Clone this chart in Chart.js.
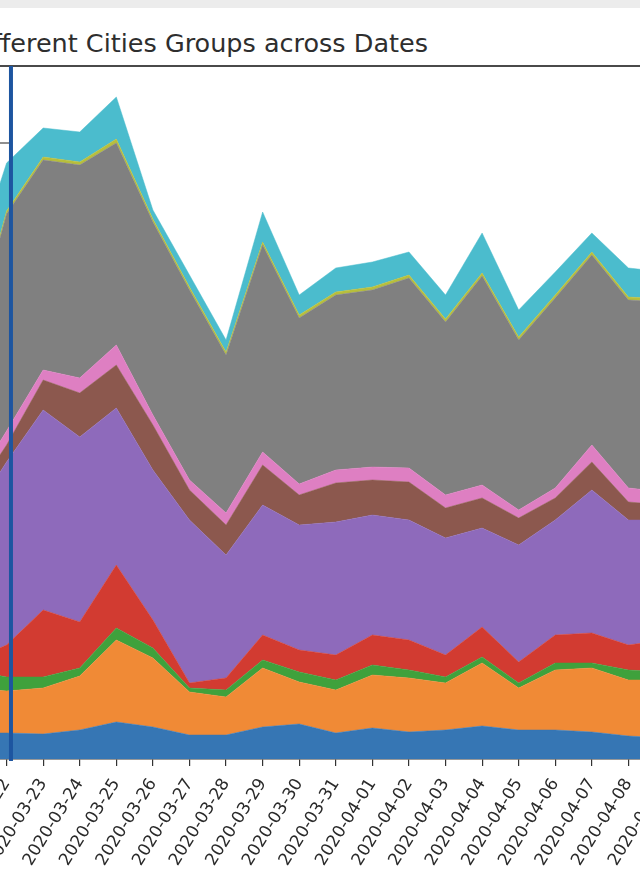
<!DOCTYPE html>
<html>
<head>
<meta charset="utf-8">
<script src="https://cdn.jsdelivr.net/npm/chart.js@4"></script>
<style>
  html, body { margin: 0; padding: 0; background: #ffffff; overflow: hidden; }
  body { width: 640px; height: 880px; position: relative; font-family: "DejaVu Sans", sans-serif; }
  #topstrip { position: absolute; left: 0; top: 0; width: 640px; height: 8px; background: #ececec; }
  #title { position: absolute; right: 212px; top: 28px; line-height: 30px; font-size: 25.5px;
           white-space: nowrap; color: #2e2e2e; font-family: "DejaVu Sans", sans-serif; }
  #wrap { position: absolute; left: -30px; top: 0; width: 695px; height: 880px; }
</style>
</head>
<body>
<div id="topstrip"></div>
<div id="title">Different Cities Groups across Dates</div>
<div id="wrap"><canvas id="c" width="695" height="880"></canvas></div>
<script>
const dates = ['2020-03-21','2020-03-22','2020-03-23','2020-03-24','2020-03-25','2020-03-26','2020-03-27',
  '2020-03-28','2020-03-29','2020-03-30','2020-03-31','2020-04-01','2020-04-02','2020-04-03','2020-04-04',
  '2020-04-05','2020-04-06','2020-04-07','2020-04-08','2020-04-09'];

const group1  = [26, 26, 25, 29, 37, 32, 24, 24, 32, 35, 26, 31, 27, 29, 33, 29, 29, 27, 23, 21];
const group2  = [45, 42, 46, 54, 82, 69, 43, 38, 59, 42, 43, 53, 54, 47, 63, 42, 60, 64, 56, 58];
const group3  = [18, 14, 11,  8, 12, 10,  4,  7,  8, 10, 10, 10,  8,  6,  6,  5,  7,  5, 10,  8];
const group4  = [ 9, 32, 67, 46, 63, 28,  5, 12, 25, 22, 25, 30, 30, 22, 30, 21, 28, 30, 25, 32];
const group5  = [142,183,200,185,157,150,163,123,130,125,133,120,120,117, 99,117,115,143,125,120];
const group6  = [19, 17, 30, 44, 43, 45, 30, 30, 40, 30, 39, 35, 38, 30, 30, 27, 22, 28, 18, 15];
const group7  = [10, 14, 10, 15, 20, 10, 10, 12, 13, 11, 13, 13, 14, 13, 13,  8, 10, 17, 14, 13];
const group8  = [141,217,210,213,202,193,190,158,207,166,175,177,190,173,209,170,190,190,188,190];
const group9  = [ 3,  3,  3,  3,  4,  3,  3,  3,  3,  3,  3,  3,  3,  3,  3,  3,  3,  3,  3,  3];
const group10 = [69, 48, 29, 30, 42,  9, 12, 12, 30, 20, 24, 25, 23, 24, 40, 27, 23, 19, 29, 27];

const seriesNames = ['Group 1','Group 2','Group 3','Group 4','Group 5','Group 6','Group 7','Group 8','Group 9','Group 10'];
const seriesValues = [group1, group2, group3, group4, group5, group6, group7, group8, group9, group10];
const seriesColors = ['#3676b4','#f08a36','#3fa13c','#d23b31','#8e6abb','#8c584e','#de7fc2','#808080','#b8bf3c','#4bbccd'];

const yMax = 693;
const markerPos = 1.12;   // highlighted date position (just after 2020-03-22)
const refLevel = 616;     // short reference level at the left edge

const datasets = seriesNames.map((name, i) => ({
  label: name,
  data: seriesValues[i],
  backgroundColor: seriesColors[i],
  borderColor: seriesColors[i],
  borderWidth: 0.5,
  pointRadius: 0,
  tension: 0,
  fill: i === 0 ? 'origin' : '-1'
}));

const framePlugin = {
  id: 'frame',
  afterDatasetsDraw(chart) {
    const { ctx, chartArea, scales } = chart;
    const x = scales.x, y = scales.y;
    ctx.save();
    ctx.strokeStyle = '#4a4a4a';
    ctx.lineWidth = 2;
    ctx.beginPath();
    ctx.moveTo(chartArea.left, chartArea.top);
    ctx.lineTo(chartArea.right, chartArea.top);
    ctx.stroke();
    const mx = x.getPixelForValue(markerPos);
    const ly = y.getPixelForValue(refLevel);
    ctx.strokeStyle = '#6a6a6a';
    ctx.lineWidth = 1.5;
    ctx.beginPath();
    ctx.moveTo(chartArea.left, ly);
    ctx.lineTo(mx, ly);
    ctx.stroke();
    ctx.strokeStyle = '#1d55a0';
    ctx.lineWidth = 4;
    ctx.beginPath();
    ctx.moveTo(mx, chartArea.top);
    ctx.lineTo(mx, chartArea.bottom + 2);
    ctx.stroke();
    ctx.restore();
  }
};

new Chart(document.getElementById('c'), {
  type: 'line',
  data: { labels: dates, datasets },
  options: {
    responsive: false,
    animation: false,
    devicePixelRatio: 1,
    layout: { padding: { top: 66, left: 0, right: 0, bottom: 0 } },
    plugins: { legend: { display: false }, title: { display: false }, tooltip: { enabled: false } },
    elements: { line: { borderJoinStyle: 'miter' } },
    scales: {
      x: {
        offset: false,
        grid: { display: true, drawOnChartArea: false, drawTicks: true, tickLength: 7, color: '#333', lineWidth: 1.2 },
        border: { display: true, color: '#333', width: 1.5 },
        ticks: {
          autoSkip: false, maxRotation: 58, minRotation: 58, padding: 9,
          color: '#2a2a2a', font: { family: 'DejaVu Sans', size: 17 }
        },
        afterFit(scale) { scale.height = 121; scale.paddingLeft = 0; scale.paddingRight = 0; }
      },
      y: {
        display: false, stacked: true, min: 0, max: yMax
      }
    }
  },
  plugins: [framePlugin]
});
</script>
</body>
</html>
